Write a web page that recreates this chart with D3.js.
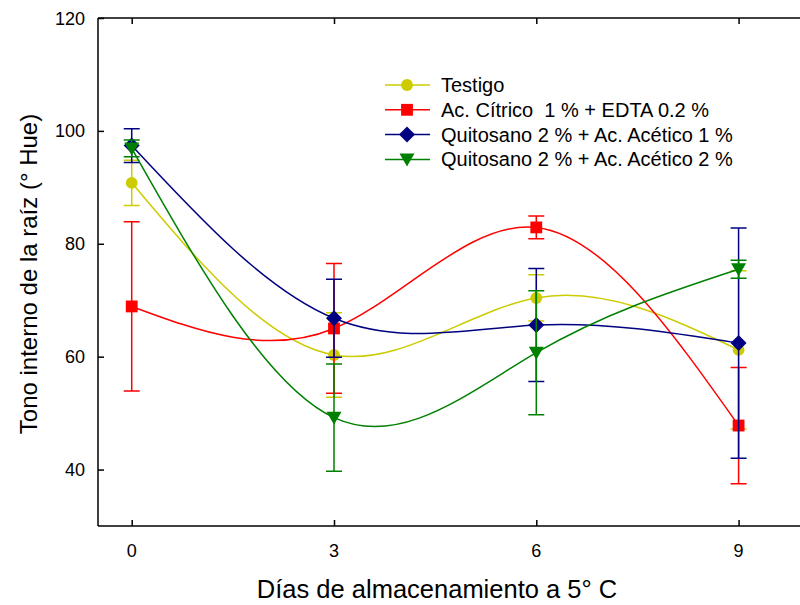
<!DOCTYPE html>
<html>
<head>
<meta charset="utf-8">
<script src="https://d3js.org/d3.v7.min.js"></script>
<style>
  body { margin: 0; background: #fff; }
  text { font-family: "Liberation Sans", Arial, sans-serif; }
</style>
</head>
<body>
<div id="chart"></div>
<script>
// days of storage
var days = [0, 3, 6, 9];
var xTicks = [0, 3, 6, 9];
var yTicks = [40, 60, 80, 100, 120];

var seriesNames = ["Testigo", "Ac. Cítrico  1 % + EDTA 0.2 %",
  "Quitosano 2 % + Ac. Acético 1 %", "Quitosano 2 % + Ac. Acético 2 %"];
var seriesColors = ["#cccc00", "#ff0000", "#000080", "#008000"];
var seriesSymbols = ["circle", "square", "diamond", "triangle"];

// mean hue values
var testigo   = [90.8, 60.3, 70.4, 61.2];
var citrico   = [68.9, 65.0, 82.9, 47.8];
var quitosan1 = [97.4, 66.8, 65.6, 62.4];
var quitosan2 = [96.9, 49.2, 60.7, 75.5];

// error (+/-)
var testigoErr   = [4.0, 7.5, 4.1, 14.0];
var citricoErr   = [15.0, 11.5, 2.0, 10.3];
var quitosan1Err = [3.0, 6.9, 10.0, 20.4];
var quitosan2Err = [1.5, 9.5, 11.0, 1.6];

var values = [testigo, citrico, quitosan1, quitosan2];
var errors = [testigoErr, citricoErr, quitosan1Err, quitosan2Err];

var W = 800, H = 605;
var pLeft = 98, pTop = 18, pBottom = 526;

var x = d3.scaleLinear().domain([-0.5, 10]).range([pLeft, pLeft + 10.5 * 67.43]);
var y = d3.scaleLinear().domain([30, 120]).range([pBottom, pTop]);

var svg = d3.select("#chart").append("svg")
    .attr("width", W)
    .attr("height", H);

// frame: left, top, bottom
svg.append("g")
    .attr("transform", "translate(" + pLeft + ",0)")
    .call(d3.axisRight(y).tickValues(yTicks).tickSize(6).tickFormat(""))
    .call(function(g) { g.select(".domain").attr("d", "M0," + pTop + "V" + pBottom); });

svg.append("g")
    .attr("transform", "translate(0," + pBottom + ")")
    .call(d3.axisTop(x).tickValues(xTicks).tickSize(6).tickFormat(""))
    .call(function(g) { g.select(".domain").attr("d", "M" + pLeft + ",0H" + W); });

svg.append("g")
    .attr("transform", "translate(0," + pTop + ")")
    .call(d3.axisBottom(x).tickValues(xTicks).tickSize(6).tickFormat(""))
    .call(function(g) { g.select(".domain").attr("d", "M" + pLeft + ",0H" + W); });

svg.selectAll(".domain, .tick line").attr("stroke", "#000").attr("stroke-width", 1.5);

// tick labels
svg.selectAll(".ylab").data(yTicks).enter().append("text")
    .attr("x", 85)
    .attr("y", function(d) { return y(d) + 6.5; })
    .attr("text-anchor", "end")
    .attr("font-size", 18)
    .text(function(d) { return d; });

svg.selectAll(".xlab").data(xTicks).enter().append("text")
    .attr("x", function(d) { return x(d); })
    .attr("y", 557)
    .attr("text-anchor", "middle")
    .attr("font-size", 18)
    .text(function(d) { return d; });

svg.append("text")
    .attr("x", 437)
    .attr("y", 598)
    .attr("text-anchor", "middle")
    .attr("font-size", 25.5)
    .text("Días de almacenamiento a 5° C");

svg.append("text")
    .attr("transform", "translate(37,274) rotate(-90)")
    .attr("text-anchor", "middle")
    .attr("font-size", 24)
    .text("Tono interno de la raíz (° Hue)");

function symbolPath(kind) {
  if (kind === "circle") return d3.symbol(d3.symbolCircle, 110)();
  if (kind === "square") return d3.symbol(d3.symbolSquare, 140)();
  if (kind === "diamond") return "M0,-8L8,0L0,8L-8,0Z";
  return "M-7.5,-6L7.5,-6L0,7Z";
}

var line = d3.line()
    .x(function(d) { return x(d.day); })
    .y(function(d) { return y(d.v); })
    .curve(d3.curveNatural);

svg.append("clipPath").attr("id", "plotclip")
  .append("rect").attr("x", pLeft).attr("y", pTop).attr("width", W - pLeft).attr("height", pBottom - pTop);

var plot = svg.append("g").attr("clip-path", "url(#plotclip)");

values.forEach(function(vals, s) {
  var col = seriesColors[s];
  var pts = days.map(function(d, i) { return {day: d, v: vals[i], e: errors[s][i]}; });
  var g = plot.append("g");

  g.selectAll(".err").data(pts).enter().append("path")
      .attr("fill", "none")
      .attr("stroke", col)
      .attr("stroke-width", 1.5)
      .attr("d", function(d) {
        var cx = x(d.day), y1 = y(d.v + d.e), y2 = y(d.v - d.e);
        return "M" + (cx - 8) + "," + y1 + "H" + (cx + 8) +
               "M" + cx + "," + y1 + "V" + y2 +
               "M" + (cx - 8) + "," + y2 + "H" + (cx + 8);
      });

  g.append("path")
      .datum(pts)
      .attr("fill", "none")
      .attr("stroke", col)
      .attr("stroke-width", 1.5)
      .attr("d", line);

  g.selectAll(".mk").data(pts).enter().append("path")
      .attr("transform", function(d) { return "translate(" + x(d.day) + "," + y(d.v) + ")"; })
      .attr("d", symbolPath(seriesSymbols[s]))
      .attr("fill", col);
});

// legend
var legend = svg.append("g");
seriesNames.forEach(function(name, i) {
  var ly = 85 + i * 24.8;
  legend.append("line")
      .attr("x1", 385).attr("x2", 430)
      .attr("y1", ly).attr("y2", ly)
      .attr("stroke", seriesColors[i])
      .attr("stroke-width", 1.5);
  legend.append("path")
      .attr("transform", "translate(407," + ly + ")")
      .attr("d", symbolPath(seriesSymbols[i]))
      .attr("fill", seriesColors[i]);
  legend.append("text")
      .attr("x", 441)
      .attr("y", ly + 7)
      .attr("font-size", 20)
      .style("white-space", "pre")
      .text(name);
});
</script>
</body>
</html>
